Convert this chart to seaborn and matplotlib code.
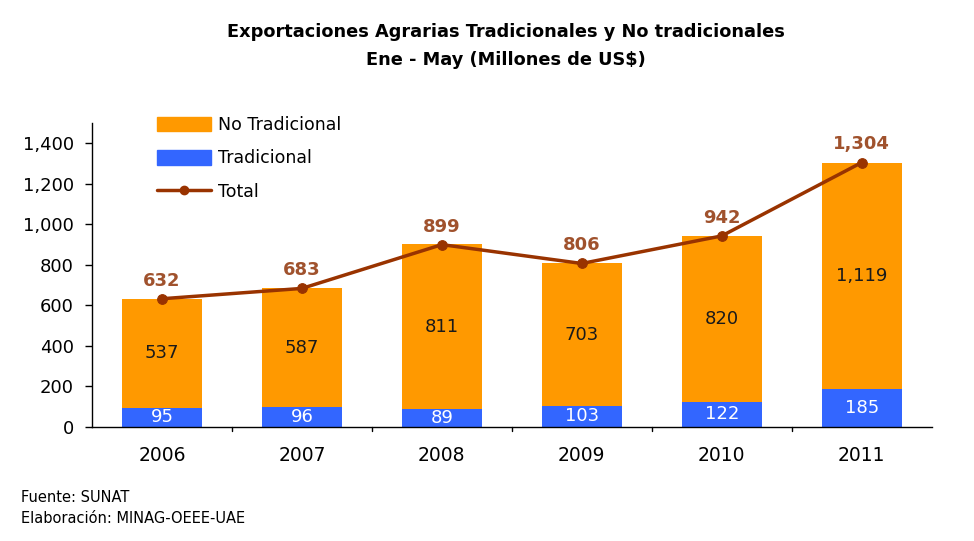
import numpy as np
import pandas as pd
import matplotlib
matplotlib.use("Agg")
import matplotlib.pyplot as plt
import seaborn as sns
from matplotlib.patches import Patch
from matplotlib.lines import Line2D

# -- data (Millones de US$)
years = ["2006", "2007", "2008", "2009", "2010", "2011"]
tradicional = [95, 96, 89, 103, 122, 185]
no_tradicional = [537, 587, 811, 703, 820, 1119]
total = [632, 683, 899, 806, 942, 1304]

c_orange = "#FF9900"
c_blue = "#3366FF"
c_line = "#993300"

sns.set_style("white")
plt.rcParams["font.family"] = ["DejaVu Sans"]
plt.rcParams["text.color"] = "black"
plt.rcParams["xtick.color"] = "black"
plt.rcParams["ytick.color"] = "black"

df = pd.DataFrame({"year": years, "trad": tradicional, "notrad": no_tradicional,
                   "total": total})
df["stack"] = df["trad"] + df["notrad"]
df["pos"] = np.arange(len(df))

fig = plt.figure(figsize=(9.74, 5.41), dpi=100)
ax = fig.add_axes([0.0945, 0.211, 0.862, 0.562])

sns.barplot(data=df, x="year", y="stack", color=c_orange, width=0.57,
            saturation=1, linewidth=0, ax=ax)
sns.barplot(data=df, x="year", y="trad", color=c_blue, width=0.57,
            saturation=1, linewidth=0, ax=ax)
sns.lineplot(data=df, x="pos", y="total", color=c_line, lw=2.5, marker="o",
             markersize=7, markeredgecolor=c_line, ax=ax)

# -- value labels
for i, row in df.iterrows():
    ax.text(i, row["trad"] / 2, f"{row['trad']:,}", ha="center", va="center",
            color="white", fontsize=13)
    ax.text(i, row["trad"] + row["notrad"] / 2, f"{row['notrad']:,}",
            ha="center", va="center", color="#1a1a1a", fontsize=13)
    ax.text(i, row["total"] + 45, f"{row['total']:,}", ha="center",
            va="bottom", color="#A0522D", fontsize=13, fontweight="bold")

ax.set_ylim(0, 1500)
ax.set_xlim(-0.5, 5.5)
ax.set_yticks(range(0, 1401, 200))
ax.set_yticklabels([f"{v:,}" for v in range(0, 1401, 200)], fontsize=13)
ax.set_xticks(range(len(years)))
ax.set_xticklabels(years, fontsize=13.5)
ax.tick_params(axis="x", length=0, pad=14)
ax.tick_params(axis="y", length=5, width=1, direction="out", left=True, pad=8)
for b in np.arange(0.5, 5.5, 1):
    ax.plot([b, b], [0, -22], color="black", lw=1, clip_on=False)
ax.set_xlabel("")
ax.set_ylabel("")
for s in ["top", "right"]:
    ax.spines[s].set_visible(False)
for s in ["left", "bottom"]:
    ax.spines[s].set_color("black")
    ax.spines[s].set_linewidth(1)

handles = [Patch(color=c_orange, label="No Tradicional"),
           Patch(color=c_blue, label="Tradicional"),
           Line2D([0], [0], color=c_line, lw=2.5, marker="o", markersize=6,
                  label="Total")]
fig.legend(handles=handles, loc="upper left", bbox_to_anchor=(0.145, 0.815),
           frameon=False, fontsize=12.5, handlelength=3.1, handleheight=0.9,
           labelspacing=0.9, handletextpad=0.4)

fig.text(0.519, 0.94, "Exportaciones Agrarias Tradicionales y No tradicionales",
         ha="center", va="center", fontsize=12.8, fontweight="bold")
fig.text(0.519, 0.889, "Ene - May (Millones de US$)", ha="center", va="center",
         fontsize=12.8, fontweight="bold")

fig.text(0.022, 0.081, "Fuente: SUNAT", fontsize=10.5, va="center")
fig.text(0.022, 0.041, "Elaboración: MINAG-OEEE-UAE", fontsize=10.5, va="center")

fig.savefig("out.png", dpi=100, facecolor="white")
